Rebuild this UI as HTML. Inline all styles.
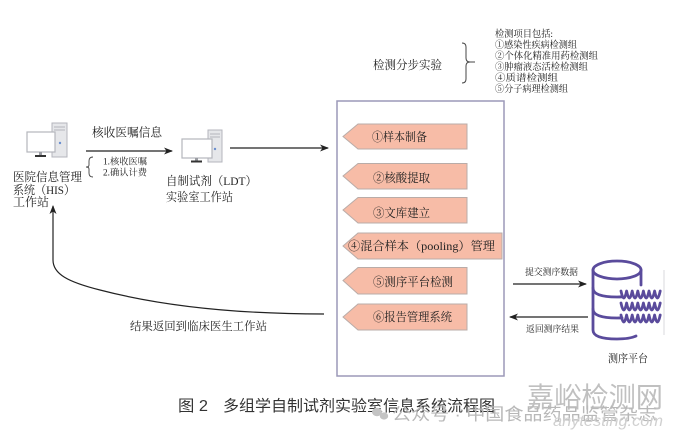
<!DOCTYPE html>
<html><head><meta charset="utf-8">
<style>
html,body{margin:0;padding:0;background:#fff;}
svg{display:block;}
.s{font-family:"Liberation Serif","Noto Serif CJK SC",serif;fill:#222;}
.h{font-family:"Liberation Sans","Noto Sans CJK SC",sans-serif;}
</style></head>
<body>
<svg width="680" height="443" viewBox="0 0 680 443" xmlns="http://www.w3.org/2000/svg">
<defs>
<marker id="ah" markerWidth="9" markerHeight="7" refX="8" refY="3.5" orient="auto" markerUnits="userSpaceOnUse">
<path d="M0,0 L9,3.5 L0,7 L2.5,3.5 z" fill="#222"/>
</marker>
</defs>

<!-- Computer 1 -->
<g>
<rect x="52" y="123" width="15" height="34" fill="#e6e7ea" stroke="#b4b6bc" stroke-width="1"/>
<line x1="54" y1="127" x2="65" y2="127" stroke="#b4b6bc"/>
<line x1="54" y1="130" x2="65" y2="130" stroke="#b4b6bc"/>
<circle cx="60" cy="143" r="1.2" fill="#6a8fd0"/>
<rect x="27" y="132" width="28" height="20" fill="#fff" stroke="#b4b6bc" stroke-width="1.2"/>
<rect x="39" y="152" width="3" height="3" fill="#9a9ca2"/>
<rect x="35" y="155" width="11" height="2" fill="#333"/>
</g>
<!-- Computer 2 -->
<g>
<rect x="208" y="130" width="14" height="32" fill="#e6e7ea" stroke="#b4b6bc" stroke-width="1"/>
<line x1="210" y1="134" x2="220" y2="134" stroke="#b4b6bc"/>
<line x1="210" y1="137" x2="220" y2="137" stroke="#b4b6bc"/>
<circle cx="215" cy="149" r="1.2" fill="#6a8fd0"/>
<rect x="182" y="139" width="30" height="19" fill="#fff" stroke="#b4b6bc" stroke-width="1.2"/>
<rect x="195" y="158" width="3" height="2.5" fill="#9a9ca2"/>
<rect x="191" y="160.5" width="11" height="2" fill="#333"/>
</g>

<!-- Left texts -->
<text class="s" x="92" y="136.5" font-size="12" textLength="70" lengthAdjust="spacingAndGlyphs">核收医嘱信息</text>
<line x1="86" y1="151" x2="172" y2="151" stroke="#222" stroke-width="1.3" marker-end="url(#ah)"/>
<line x1="230" y1="148" x2="328" y2="148" stroke="#222" stroke-width="1.3" marker-end="url(#ah)"/>
<path d="M93,157 Q89,157 89,161 L89,165 Q89,167 86,167 Q89,167 89,169 L89,173 Q89,177 93,177" fill="none" stroke="#444" stroke-width="0.9"/>
<text class="s" x="103" y="164.5" font-size="9" textLength="44" lengthAdjust="spacingAndGlyphs">1.核收医嘱</text>
<text class="s" x="103" y="175.5" font-size="9" textLength="44" lengthAdjust="spacingAndGlyphs">2.确认计费</text>
<text class="s" x="13" y="181" font-size="12" textLength="69" lengthAdjust="spacingAndGlyphs">医院信息管理</text>
<text class="s" x="13" y="194" font-size="12" textLength="62" lengthAdjust="spacingAndGlyphs">系统（HIS）</text>
<text class="s" x="13" y="206" font-size="12" textLength="36" lengthAdjust="spacingAndGlyphs">工作站</text>
<text class="s" x="166" y="185" font-size="12" textLength="91" lengthAdjust="spacingAndGlyphs">自制试剂（LDT）</text>
<text class="s" x="166" y="201" font-size="12" textLength="67" lengthAdjust="spacingAndGlyphs">实验室工作站</text>

<!-- Return line -->
<path d="M53,260 C53,274 68,282 100,290 C150,303 220,314 324,314" fill="none" stroke="#222" stroke-width="1.2"/>
<line x1="53" y1="260" x2="53" y2="206" stroke="#222" stroke-width="1.2" marker-end="url(#ah)"/>
<text class="s" x="130" y="330" font-size="11.5" textLength="137" lengthAdjust="spacingAndGlyphs">结果返回到临床医生工作站</text>

<!-- Top -->
<text class="s" x="373" y="69" font-size="12" textLength="69" lengthAdjust="spacingAndGlyphs">检测分步实验</text>
<path d="M462,43 Q466,43 466,47 L466,58 Q466,62 470,62 L475,62 M470,62 Q466,62 466,66 L466,79 Q466,83 462,83" fill="none" stroke="#444" stroke-width="1"/>
<g class="s" font-size="9.5">
<text x="495" y="37" textLength="58" lengthAdjust="spacingAndGlyphs">检测项目包括:</text>
<text x="495" y="48" textLength="82" lengthAdjust="spacingAndGlyphs">①感染性疾病检测组</text>
<text x="495" y="59" textLength="103" lengthAdjust="spacingAndGlyphs">②个体化精准用药检测组</text>
<text x="495" y="70" textLength="93" lengthAdjust="spacingAndGlyphs">③肿瘤液态活检检测组</text>
<text x="495" y="81" textLength="63" lengthAdjust="spacingAndGlyphs">④质谱检测组</text>
<text x="495" y="92" textLength="73" lengthAdjust="spacingAndGlyphs">⑤分子病理检测组</text>
</g>

<!-- Main box -->
<rect x="337" y="101" width="167" height="275" fill="#fff" stroke="#9c99b8" stroke-width="1.5"/>

<g fill="#f7bca7" stroke="#b9aca8" stroke-width="1">
<polygon points="343,136.5 358,124 467,124 467,149 358,149"/>
<polygon points="343,176 358,163.5 467,163.5 467,189 358,189"/>
<polygon points="343,210 358,197.5 467,197.5 467,223 358,223"/>
<polygon points="343,246 358,233 502,233 502,259 358,259"/>
<polygon points="343,280.5 358,267.5 467,267.5 467,294 358,294"/>
<polygon points="343,317 358,304 467,304 467,330 358,330"/>
</g>
<g class="s" font-size="12">
<text x="372" y="141" textLength="55" lengthAdjust="spacingAndGlyphs">①样本制备</text>
<text x="373" y="182" textLength="57" lengthAdjust="spacingAndGlyphs">②核酸提取</text>
<text x="373" y="217" textLength="57" lengthAdjust="spacingAndGlyphs">③文库建立</text>
<text x="348" y="250" textLength="147" lengthAdjust="spacingAndGlyphs">④混合样本（pooling）管理</text>
<text x="373" y="286" textLength="80" lengthAdjust="spacingAndGlyphs">⑤测序平台检测</text>
<text x="373" y="321" textLength="79" lengthAdjust="spacingAndGlyphs">⑥报告管理系统</text>
</g>

<!-- Right arrows -->
<text class="s" x="525" y="275" font-size="9" textLength="53" lengthAdjust="spacingAndGlyphs">提交测序数据</text>
<line x1="513" y1="284" x2="586" y2="284" stroke="#222" stroke-width="1.2" marker-end="url(#ah)"/>
<line x1="588" y1="317" x2="510" y2="317" stroke="#222" stroke-width="1.2" marker-end="url(#ah)"/>
<text class="s" x="526" y="332" font-size="9" textLength="53" lengthAdjust="spacingAndGlyphs">返回测序结果</text>

<!-- Database -->
<g fill="none" stroke="#5a4b9c" stroke-width="2.8" stroke-linecap="round" stroke-linejoin="round">
<ellipse cx="617" cy="270" rx="24" ry="9"/>
<path d="M593,270 L593,330 Q593,339 617,339 Q630,339 636,336"/>
<path d="M593,288 Q593,297 617,297 Q620,297 622,296.8"/>
<path d="M593,309 Q593,318 617,318 Q620,318 622,317.8"/>
<path d="M641,270 L641,285"/>
<path d="M621,291 q2.8,14 5.6,0 q2.8,14 5.6,0 q2.8,14 5.6,0 q2.8,14 5.6,0 q2.8,14 5.6,0 q2.8,14 5.6,0 q2.8,14 5.6,0"/>
<path d="M621,303 q2.8,14 5.6,0 q2.8,14 5.6,0 q2.8,14 5.6,0 q2.8,14 5.6,0 q2.8,14 5.6,0 q2.8,14 5.6,0 q2.8,14 5.6,0"/>
<path d="M621,315 q2.8,14 5.6,0 q2.8,14 5.6,0 q2.8,14 5.6,0 q2.8,14 5.6,0 q2.8,14 5.6,0 q2.8,14 5.6,0 q2.8,14 5.6,0"/>
</g>
<line x1="664" y1="270" x2="664" y2="335" stroke="#d8d8dc" stroke-width="1"/>
<text class="s" x="608" y="362" font-size="11" textLength="40" lengthAdjust="spacingAndGlyphs">测序平台</text>

<!-- Caption -->
<text class="h" x="178" y="411" font-size="15.5" fill="#333" textLength="30" lengthAdjust="spacingAndGlyphs">图 2</text>
<text class="h" x="223" y="411" font-size="15.5" fill="#333" textLength="272" lengthAdjust="spacingAndGlyphs">多组学自制试剂实验室信息系统流程图</text>

<!-- Watermark -->
<text class="h" x="527" y="407" font-size="28" fill="#c0c0c0" textLength="136" lengthAdjust="spacingAndGlyphs">嘉峪检测网</text>
<g fill="#c4c4c4">
<ellipse cx="377" cy="412" rx="5" ry="4.2"/>
<ellipse cx="384" cy="416" rx="4.2" ry="3.6"/>
</g>
<text class="h" x="392" y="420" font-size="17" fill="#b8b8b8" textLength="265" lengthAdjust="spacingAndGlyphs">公众号 · 中国食品药品监管杂志</text>
<text class="h" x="553" y="426" font-size="16" font-style="italic" fill="#d0d0d0" textLength="110" lengthAdjust="spacingAndGlyphs">anytesting.com</text>
</svg>
</body></html>
